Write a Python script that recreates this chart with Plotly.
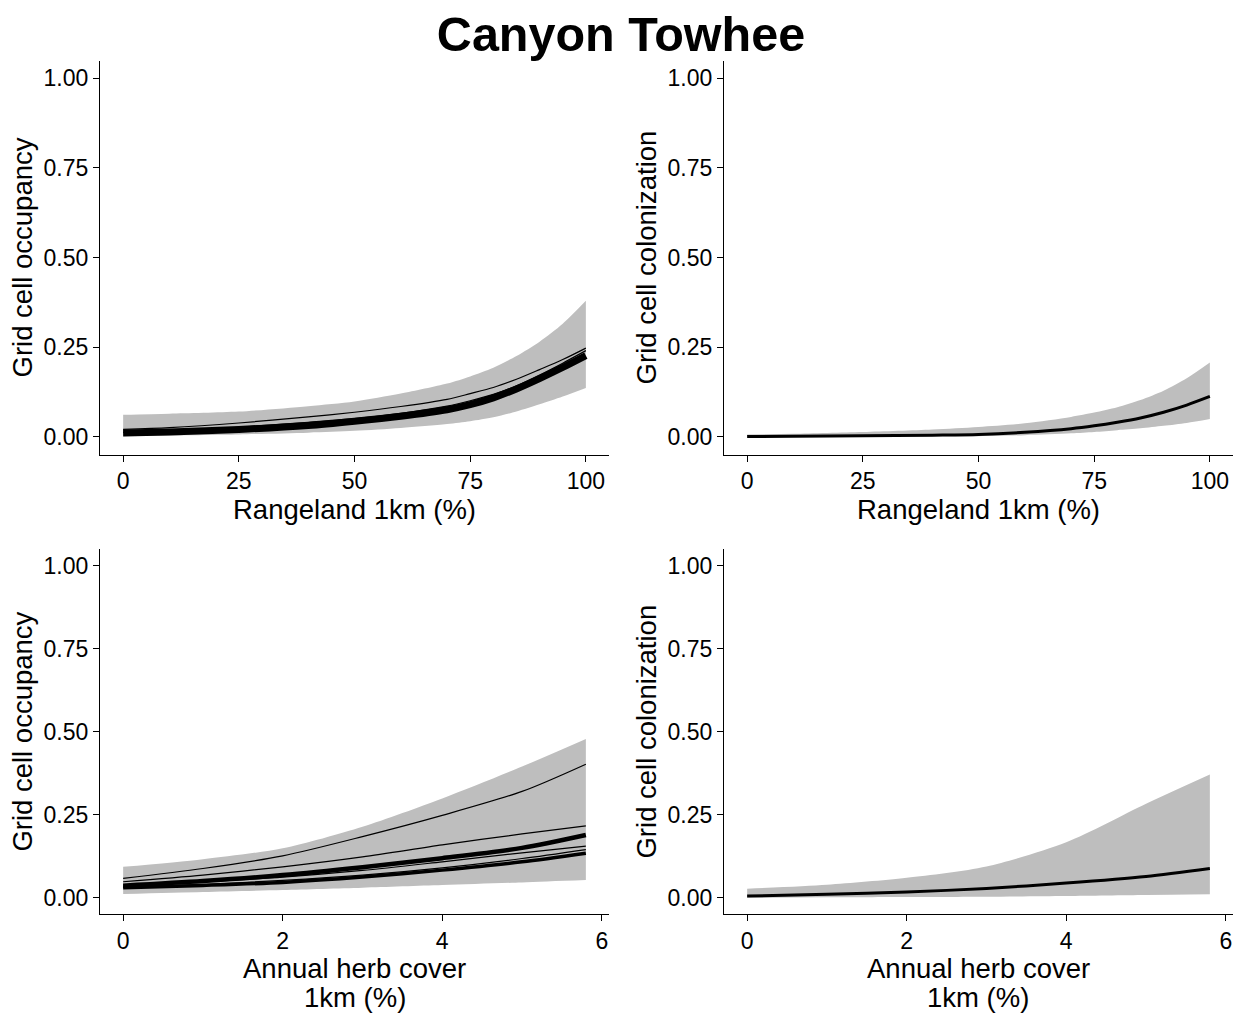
import plotly.graph_objects as go

# ---------------- data ----------------
# Top row: x = Rangeland 1km (%)
range_x = [0, 10, 25, 40, 50, 60, 70, 75, 80, 85, 90, 95, 100]

occ_range_main = [0.010, 0.013, 0.020, 0.031, 0.043, 0.057, 0.075, 0.089, 0.108, 0.133, 0.162, 0.193, 0.226]
occ_range_thin1 = [0.020, 0.025, 0.038, 0.055, 0.068, 0.084, 0.104, 0.120, 0.137, 0.160, 0.187, 0.215, 0.247]
occ_range_thin2 = [0.012, 0.016, 0.026, 0.040, 0.050, 0.065, 0.085, 0.100, 0.118, 0.142, 0.172, 0.205, 0.240]
occ_range_upper = [0.061, 0.064, 0.070, 0.085, 0.098, 0.120, 0.148, 0.168, 0.192, 0.225, 0.265, 0.315, 0.379]
occ_range_lower = [0.001, 0.003, 0.006, 0.011, 0.016, 0.024, 0.035, 0.043, 0.054, 0.070, 0.090, 0.112, 0.136]

col_range_mean = [0.000, 0.001, 0.002, 0.004, 0.006, 0.012, 0.022, 0.030, 0.040, 0.052, 0.068, 0.088, 0.112]
col_range_upper = [0.006, 0.008, 0.013, 0.020, 0.027, 0.037, 0.055, 0.067, 0.082, 0.102, 0.128, 0.163, 0.207]
col_range_lower = [0.000, 0.000, 0.000, 0.001, 0.001, 0.004, 0.009, 0.013, 0.018, 0.023, 0.030, 0.038, 0.049]

# Bottom row: x = Annual herb cover 1km (%)
herb_x = [0, 1, 2, 3, 4, 5, 5.8]

occ_herb_l1 = [0.058, 0.088, 0.126, 0.184, 0.248, 0.320, 0.402]
occ_herb_l2 = [0.048, 0.068, 0.093, 0.123, 0.159, 0.192, 0.216]
occ_herb_l3 = [0.036, 0.050, 0.068, 0.092, 0.119, 0.150, 0.189]
occ_herb_l4 = [0.036, 0.048, 0.062, 0.082, 0.108, 0.135, 0.155]
occ_herb_l5 = [0.030, 0.037, 0.046, 0.062, 0.083, 0.108, 0.134]
occ_herb_l6 = [0.032, 0.040, 0.052, 0.068, 0.090, 0.118, 0.145]
occ_herb_upper = [0.093, 0.116, 0.149, 0.214, 0.299, 0.395, 0.478]
occ_herb_lower = [0.011, 0.017, 0.023, 0.030, 0.038, 0.046, 0.053]

col_herb_mean = [0.005, 0.010, 0.017, 0.028, 0.044, 0.064, 0.088]
col_herb_upper = [0.027, 0.039, 0.060, 0.094, 0.167, 0.283, 0.371]
col_herb_lower = [0.000, 0.001, 0.002, 0.003, 0.005, 0.008, 0.010]

y_ticks = [0, 0.25, 0.5, 0.75, 1.0]
range_ticks = [0, 25, 50, 75, 100]
herb_ticks = [0, 2, 4, 6]

title_text = "Canyon Towhee"
occ_label = "Grid cell occupancy"
col_label = "Grid cell colonization"
range_label = "Rangeland 1km (%)"
herb_label_lines = ["Annual herb cover", "1km (%)"]

# ---------------- figure ----------------
W, H = 1242, 1013
FONT = "Liberation Sans, Arial, sans-serif"
RIBBON = "rgb(190,190,190)"

fig = go.Figure()


def ribbon(x, lo, hi, xa, ya):
    fig.add_trace(go.Scatter(
        x=x, y=lo, mode="lines", line=dict(width=0, shape="spline", smoothing=0.8),
        hoverinfo="skip", showlegend=False, xaxis=xa, yaxis=ya))
    fig.add_trace(go.Scatter(
        x=x, y=hi, mode="lines", fill="tonexty", fillcolor=RIBBON,
        line=dict(width=0, shape="spline", smoothing=0.8),
        hoverinfo="skip", showlegend=False, xaxis=xa, yaxis=ya))


def line(x, y, w, xa, ya):
    fig.add_trace(go.Scatter(
        x=x, y=y, mode="lines",
        line=dict(color="black", width=w, shape="spline", smoothing=0.8),
        showlegend=False, xaxis=xa, yaxis=ya))


# top-left
ribbon(range_x, occ_range_lower, occ_range_upper, "x", "y")
line(range_x, occ_range_thin1, 1.2, "x", "y")
line(range_x, occ_range_thin2, 1.2, "x", "y")
line(range_x, occ_range_main, 7, "x", "y")
# top-right
ribbon(range_x, col_range_lower, col_range_upper, "x2", "y2")
line(range_x, col_range_mean, 3, "x2", "y2")
# bottom-left
ribbon(herb_x, occ_herb_lower, occ_herb_upper, "x3", "y3")
line(herb_x, occ_herb_l1, 1.2, "x3", "y3")
line(herb_x, occ_herb_l2, 1.2, "x3", "y3")
line(herb_x, occ_herb_l4, 1.2, "x3", "y3")
line(herb_x, occ_herb_l6, 1.2, "x3", "y3")
line(herb_x, occ_herb_l5, 3.5, "x3", "y3")
line(herb_x, occ_herb_l3, 4.5, "x3", "y3")
# bottom-right
ribbon(herb_x, col_herb_lower, col_herb_upper, "x4", "y4")
line(herb_x, col_herb_mean, 3, "x4", "y4")

left_dom = [100 / W, 609 / W]
right_dom = [724 / W, 1233 / W]
top_dom = [1 - 454.5 / H, 1 - 60.5 / H]
bot_dom = [1 - 914.3 / H, 1 - 549 / H]

common = dict(showline=True, linecolor="black", linewidth=1.2, ticks="outside",
              ticklen=6, tickwidth=1.2, tickcolor="black", showgrid=False,
              zeroline=False, tickfont=dict(family=FONT, size=23, color="black"),
              title_font=dict(family=FONT, size=27.5, color="black"))

xr_range = [-5, 105]
xr_herb = [-0.29, 6.09]
yr = [-0.05, 1.05]

# two-line x-axis titles of the bottom row, set tight like the reference
annotations = []
for dom in (left_dom, right_dom):
    for i, txt in enumerate(herb_label_lines):
        annotations.append(dict(
            text=txt, xref="paper", yref="paper", x=(dom[0] + dom[1]) / 2,
            y=1 - (968 + 29 * i) / H, xanchor="center", yanchor="middle",
            showarrow=False, font=dict(family=FONT, size=27.5, color="black")))

fig.update_layout(
    width=W, height=H, margin=dict(l=0, r=0, t=0, b=0),
    paper_bgcolor="white", plot_bgcolor="white", showlegend=False,
    title=dict(text="<b>" + title_text + "</b>", x=0.5, xanchor="center",
               y=1 - 34 / H, yanchor="middle",
               font=dict(family=FONT, size=48.5, color="black")),
    annotations=annotations,
    xaxis=dict(domain=left_dom, anchor="y", range=xr_range, tickvals=range_ticks,
               title=dict(text=range_label, standoff=2), **common),
    yaxis=dict(domain=top_dom, anchor="x", range=yr, tickvals=y_ticks, tickformat=".2f",
               title=dict(text=occ_label, standoff=2), **common),
    xaxis2=dict(domain=right_dom, anchor="y2", range=xr_range, tickvals=range_ticks,
                title=dict(text=range_label, standoff=2), **common),
    yaxis2=dict(domain=top_dom, anchor="x2", range=yr, tickvals=y_ticks, tickformat=".2f",
                title=dict(text=col_label, standoff=2), **common),
    xaxis3=dict(domain=left_dom, anchor="y3", range=xr_herb, tickvals=herb_ticks, **common),
    yaxis3=dict(domain=bot_dom, anchor="x3", range=yr, tickvals=y_ticks, tickformat=".2f",
                title=dict(text=occ_label, standoff=2), **common),
    xaxis4=dict(domain=right_dom, anchor="y4", range=xr_herb, tickvals=herb_ticks, **common),
    yaxis4=dict(domain=bot_dom, anchor="x4", range=yr, tickvals=y_ticks, tickformat=".2f",
                title=dict(text=col_label, standoff=2), **common),
)

fig.write_html("out.html")
